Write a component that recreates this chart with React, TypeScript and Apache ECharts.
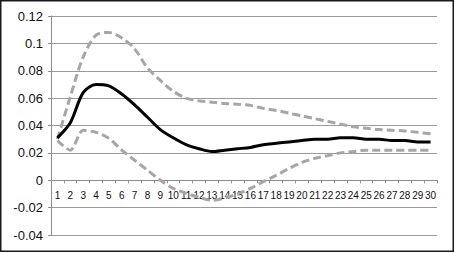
import React, { useEffect, useRef } from "react";
import * as echarts from "echarts";

const categories = Array.from({ length: 30 }, (_, i) => String(i + 1));

const response = [
  0.031, 0.042, 0.064, 0.070, 0.069, 0.063, 0.055, 0.046, 0.037, 0.031,
  0.026, 0.023, 0.021, 0.022, 0.023, 0.024, 0.026, 0.027, 0.028, 0.029,
  0.030, 0.030, 0.031, 0.031, 0.030, 0.030, 0.029, 0.029, 0.028, 0.028,
];

const upperBand = [
  0.030, 0.061, 0.090, 0.106, 0.108, 0.104, 0.096, 0.082, 0.073, 0.065,
  0.060, 0.058, 0.057, 0.056, 0.0555, 0.0547, 0.0525, 0.051, 0.049, 0.047,
  0.045, 0.043, 0.041, 0.039, 0.038, 0.037, 0.0365, 0.036, 0.035, 0.034,
];

const lowerBand = [
  0.029, 0.022, 0.0365, 0.035, 0.0306, 0.022, 0.0146, 0.0073, 0.0, -0.006,
  -0.0095, -0.0125, -0.0146, -0.013, -0.010, -0.006, -0.001, 0.0036, 0.0087, 0.013,
  0.016, 0.018, 0.020, 0.021, 0.022, 0.022, 0.022, 0.022, 0.022, 0.022,
];

const yMin = -0.04;
const yMax = 0.12;
const yStep = 0.02;

export default function App() {
  const ref = useRef<HTMLDivElement>(null);
  useEffect(() => {
    if (!ref.current) return;
    const chart = echarts.init(ref.current, null, { renderer: "svg" });
    const font = "'Liberation Sans', Arial, sans-serif";
    const gridTop = 16;
    const gridBottom = 18;
    const gridHeight = 253 - gridTop - gridBottom;
    const zeroOffset = -gridHeight * ((0 - yMin) / (yMax - yMin));
    chart.setOption({
      animation: false,
      backgroundColor: "#ffffff",
      grid: { left: 51, right: 18, top: gridTop, bottom: gridBottom, containLabel: false },
      graphic: [
        {
          type: "rect",
          shape: { x: 0.75, y: 0.75, width: 452.5, height: 250.5 },
          style: { fill: "none", stroke: "#1a1a1a", lineWidth: 1.5 },
          silent: true,
        },
      ],
      xAxis: {
        type: "category",
        data: categories,
        boundaryGap: true,
        position: "bottom",
        offset: zeroOffset,
        axisLine: { onZero: false, lineStyle: { color: "#8c8c8c", width: 1 } },
        axisTick: { show: true, length: 3, inside: false, lineStyle: { color: "#8c8c8c" } },
        axisLabel: {
          interval: 0,
          color: "#111",
          fontSize: 10,
          fontFamily: font,
          margin: 10,
        },
        splitLine: { show: false },
      },
      yAxis: {
        type: "value",
        min: yMin,
        max: yMax,
        interval: yStep,
        axisLine: { show: true, lineStyle: { color: "#8c8c8c", width: 1 } },
        axisTick: { show: true, length: 3, lineStyle: { color: "#8c8c8c" } },
        axisLabel: {
          color: "#111",
          fontSize: 13,
          fontFamily: font,
          margin: 8,
          formatter: (v: number) => String(Math.round(v * 100) / 100),
        },
        splitLine: { show: true, lineStyle: { color: "#9a9a9a", width: 1.2 } },
      },
      series: [
        {
          type: "line",
          data: upperBand,
          symbol: "none",
          smooth: 0.3,
          lineStyle: { color: "#a6a6a6", width: 3, type: [8, 4] },
          z: 2,
        },
        {
          type: "line",
          data: lowerBand,
          symbol: "none",
          smooth: 0.3,
          lineStyle: { color: "#a6a6a6", width: 3, type: [8, 4] },
          z: 2,
        },
        {
          type: "line",
          data: response,
          symbol: "none",
          smooth: 0.3,
          lineStyle: { color: "#000000", width: 3 },
          z: 3,
        },
      ],
    });
    return () => chart.dispose();
  }, []);
  return (
    <div
      ref={ref}
      style={{ position: "fixed", left: 0, top: 0, width: 455, height: 253 }}
    />
  );
}
